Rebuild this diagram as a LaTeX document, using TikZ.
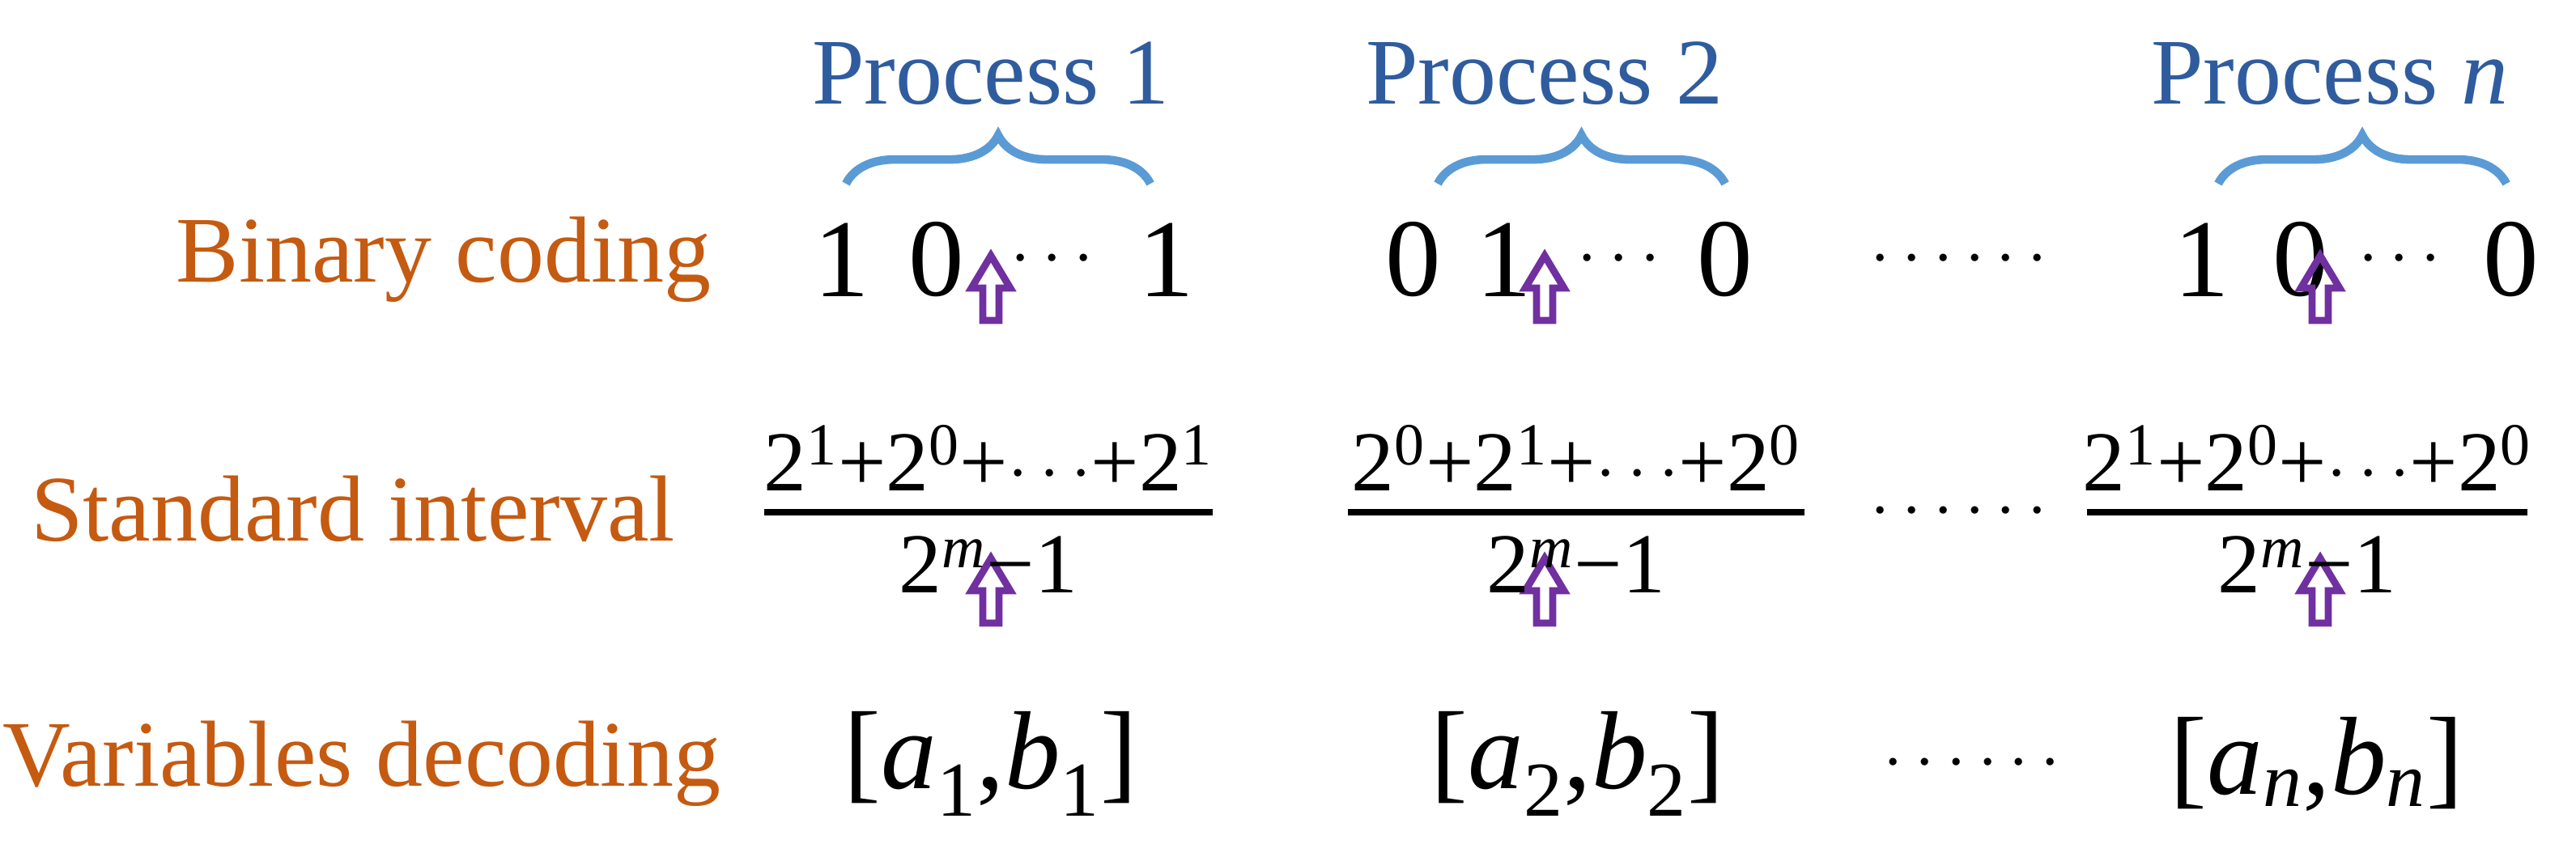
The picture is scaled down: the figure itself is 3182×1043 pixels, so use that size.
\documentclass[tikz,border=0pt]{standalone}
\usepackage{fontspec}
\setmainfont{Liberation Serif}
\usetikzlibrary{decorations.pathreplacing}
\definecolor{procblue}{HTML}{2F5C9E}
\definecolor{braceblue}{HTML}{5B9BD5}
\definecolor{labelorange}{HTML}{C55A11}
\definecolor{arrowpurple}{HTML}{7030A0}
\tikzset{
  label/.style={text=labelorange, font=\fontsize{33}{38}\selectfont},
  proc/.style={text=procblue, font=\fontsize{33}{38}\selectfont},
  bit/.style={font=\fontsize{39}{44}\selectfont},
  frac/.style={font=\fontsize{30}{34}\selectfont},
  bar/.style={line width=2.5pt},
  hollow/.pic={\draw[arrowpurple, line width=2.5pt, line join=miter]
    (-10,0) -- (10,0) -- (10,-40) -- (24,-40) -- (0,-80) -- (-24,-40) -- (-10,-40) -- cycle;}
}
\newcommand{\sq}[1]{\textsuperscript{#1}}
\begin{document}
\begin{tikzpicture}[x=0.01cm, y=-0.01cm]
\useasboundingbox (0,0) rectangle (3182,1043);
% processes and braces
\foreach \x/\t [count=\i] in {1224/1, 1908/2, 2878/\textit{n}}
  \node [proc] (p\i) at (\x,91) {Process \t};
\foreach \a/\b in {1045/1421, 1776/2131, 2740/3096}
  \draw [braceblue, line width=3pt, decorate, decoration={brace, amplitude=17pt}] (\a,227) -- (\b,227);
% row labels
\node [label] (bin) at (548,321) {Binary coding};
\node [label] (std) at (436,629) {Standard interval};
\node [label] (var) at (447,944) {Variables decoding};
% binary digits
\foreach \x/\t in {1040/1, 1157/0, 1300/$\cdots$, 1441/1,
  1746/0, 1858/1, 2000/$\cdots$, 2131/0, 2420/$\cdots\cdots$,
  2720/1, 2842/0, 2964/$\cdots$, 3102/0}
  \node [bit] at (\x,321) {\t};
% arrows
\foreach \x in {1224, 1908, 2866} {
  \pic at (\x,396) {hollow};
  \pic at (\x,770) {hollow};
}
% fractions
\foreach \a/\b/\n [count=\i] in {944/1498/2\sq{1}+2\sq{0}+$\cdots$+2\sq{1},
  1665/2229/2\sq{0}+2\sq{1}+$\cdots$+2\sq{0}, 2578/3122/2\sq{1}+2\sq{0}+$\cdots$+2\sq{0}} {
  \node [frac] (n\i) at ({(\a+\b)/2},566) {\n};
  \draw [bar] (\a,633) -- (\b,633);
  \node [frac] (d\i) at ({(\a+\b)/2},698) {2\sq{\textit{m}}−1};
}
\node [bit] at (2420,633) {$\cdots\cdots$};
% decoded variables
\node [bit] (v1) at (1224,944) {[\textit{a}\textsubscript{1},\textit{b}\textsubscript{1}]};
\node [bit] (v2) at (1949,944) {[\textit{a}\textsubscript{2},\textit{b}\textsubscript{2}]};
\node [bit] at (2436,944) {$\cdots\cdots$};
\node [bit] (vn) at (2862,944) {[\textit{a}\textsubscript{\textit{n}},\textit{b}\textsubscript{\textit{n}}]};
\end{tikzpicture}
\end{document}
